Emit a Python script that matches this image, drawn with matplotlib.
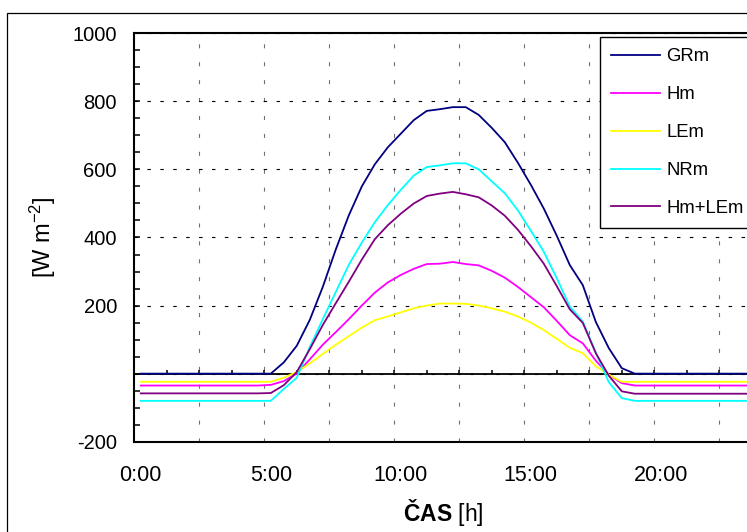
import numpy as np
import matplotlib
matplotlib.use("Agg")
import matplotlib.pyplot as plt
from matplotlib.patches import Rectangle
from matplotlib.ticker import FixedLocator, MultipleLocator, FuncFormatter

# half-hourly values, 0:00 .. 23:30
GRm = [0, 0, 0, 0, 0, 0, 0, 0, 0, 0,
       0, 33, 82, 158, 255, 365, 465, 550, 615, 665,
       705, 745, 772, 777, 783, 783, 760, 722, 680, 620,
       555, 485, 405, 319, 260, 152, 75, 16, 0, 0,
       0, 0, 0, 0, 0, 0, 0, 0]
Hm = [-35, -35, -35, -35, -35, -35, -35, -35, -35, -35,
      -33, -22, 0, 42, 85, 122, 160, 200, 238, 268,
      290, 308, 322, 323, 328, 322, 318, 302, 282, 255,
      225, 195, 155, 113, 89, 38, -3, -28, -35, -35,
      -35, -35, -35, -35, -35, -35, -35, -35]
LEm = [-24, -24, -24, -24, -24, -24, -24, -24, -24, -24,
       -24, -12, 5, 30, 58, 85, 110, 135, 157, 168,
       180, 192, 200, 206, 206, 205, 200, 192, 182, 168,
       150, 128, 102, 76, 60, 22, -3, -24, -24, -24,
       -24, -24, -24, -24, -24, -24, -24, -24]
NRm = [-80, -80, -80, -80, -80, -80, -80, -80, -80, -80,
       -80, -45, -12, 78, 160, 240, 320, 385, 445, 495,
       540, 582, 607, 612, 618, 618, 600, 565, 530, 480,
       420, 358, 280, 197, 153, 62, -25, -72, -80, -80,
       -80, -80, -80, -80, -80, -80, -80, -80]
HmLEm = [-58, -58, -58, -58, -58, -58, -58, -58, -58, -58,
         -57, -34, 5, 72, 143, 207, 270, 335, 395, 436,
         470, 500, 522, 529, 534, 527, 518, 494, 464, 423,
         375, 323, 257, 189, 149, 60, -6, -52, -59, -59,
         -59, -59, -59, -59, -59, -59, -59, -59]

names = ["GRm", "Hm", "LEm", "NRm", "Hm+LEm"]
colors = ["#000080", "#FF00FF", "#FFFF00", "#00FFFF", "#800080"]
tick_labels = ["0:00", "5:00", "10:00", "15:00", "20:00"]

plt.rcParams["font.family"] = ["Liberation Sans", "DejaVu Sans"]
plt.rcParams["mathtext.fontset"] = "custom"
plt.rcParams["mathtext.rm"] = "Liberation Sans"
plt.rcParams["mathtext.bf"] = "Liberation Sans:bold"
plt.rcParams["mathtext.default"] = "regular"
plt.rcParams["lines.scale_dashes"] = False
plt.rcParams["axes.unicode_minus"] = False

W, H = 747, 532
fig = plt.figure(figsize=(W / 100, H / 100), dpi=100)
ax = fig.add_axes([134.3 / W, 1 - 441.7 / H, 624 / W, 408.4 / H])

x = np.arange(len(GRm))
for vals, name, c in zip([GRm, Hm, LEm, NRm, HmLEm], names, colors):
    ax.plot(x, vals, color=c, lw=1.3, label=name, zorder=3)

ax.set_xlim(-0.5, 47.5)
ax.set_ylim(-200, 1000)

# y axis (no label at 0)
ax.yaxis.set_major_locator(MultipleLocator(200))
ax.yaxis.set_minor_locator(MultipleLocator(50))
ax.yaxis.set_major_formatter(FuncFormatter(lambda v, p: "" if v == 0 else f"{v:.0f}"))
ax.tick_params(axis="y", which="both", direction="in", length=4.3, width=1.1,
               labelsize=14.5, pad=12.5)
ax.grid(axis="y", which="major", color="k", lw=0.8, linestyle=(0, (2.5, 6.8)))

# x axis: labels at bottom, gridlines every 2.5 h
ax.xaxis.set_major_locator(FixedLocator([0, 10, 20, 30, 40]))
ax.set_xticklabels(tick_labels)
ax.xaxis.set_minor_locator(FixedLocator(np.arange(4.5, 47.5, 5)))
ax.tick_params(axis="x", which="both", length=0, labelsize=15.5, pad=17)
ax.grid(axis="x", which="minor", color="#707070", lw=0.8, linestyle=(0, (2.9, 10)))

# zero line with its own ticks
ax.axhline(0, color="k", lw=1.3, zorder=2)
zt = np.arange(-0.5, 47.5, 2.5)
ax.plot(zt, np.zeros_like(zt), linestyle="none", marker=2, ms=3.2, mew=1.1,
        color="k", zorder=2)

for s in ["left", "top", "bottom"]:
    ax.spines[s].set_linewidth(1.5)
ax.spines["right"].set_visible(False)

ax.set_ylabel("[W m$^{-2}$]", fontsize=17)
ax.yaxis.set_label_coords(-0.123, 0.5)
ax.set_xlabel(r"$\mathbf{ČAS}$ [h]", fontsize=16.5)
ax.xaxis.set_label_coords(0.4947, -0.136)

leg = ax.legend(loc="upper left", bbox_to_anchor=(600 / W, 1 - 37.3 / H),
                bbox_transform=fig.transFigure, fancybox=False, framealpha=1,
                edgecolor="k", fontsize=13.3, handlelength=2.65,
                handletextpad=0.35, borderpad=0.6, labelspacing=1.13,
                borderaxespad=0)
leg.get_frame().set_linewidth(1.0)

# chart border
fig.patches.append(Rectangle((7.3 / W, -0.05), 1.2, 1 - 13.3 / H + 0.05,
                             transform=fig.transFigure, fill=False,
                             ec="k", lw=0.9))

fig.savefig("out.png", dpi=100)
